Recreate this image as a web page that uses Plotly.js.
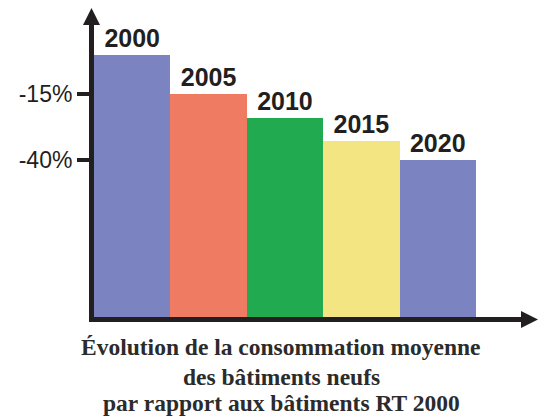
<!DOCTYPE html>
<html>
<head>
<meta charset="utf-8">
<script src="https://cdn.plot.ly/plotly-3.0.1.min.js"></script>
<style>html,body{margin:0;padding:0;background:#fff;}#chart{width:547px;height:418px;}</style>
</head>
<body>
<div id="chart"></div>
<script>
var years = ['2000', '2005', '2010', '2015', '2020'];
var values = [100, 85, 76, 67, 60];
var tickVals = [85, 60];
var tickText = ['-15%', '-40%'];
var titleLines = ['Évolution de la consommation moyenne', 'des bâtiments neufs', 'par rapport aux bâtiments RT 2000'];

var barColors = ['#7b84c1', '#f07b63', '#22aa50', '#f3e682', '#7b84c1'];
var ink = '#231f20';

var trace = {
  type: 'bar',
  x: years,
  y: values,
  text: years,
  textposition: 'outside',
  cliponaxis: false,
  textfont: {family: 'Liberation Sans, Arial, sans-serif', size: 25, color: ink, weight: 'bold'},
  texttemplate: '<b>%{text}</b>',
  marker: {color: barColors, line: {width: 0}},
  width: 1,
  hoverinfo: 'none'
};

var titleY = [-0.1027, -0.2055, -0.2945];
var annotations = titleLines.map(function (t, i) {
  return {
    xref: 'paper', yref: 'paper', x: 0.438, y: titleY[i],
    xanchor: 'center', yanchor: 'middle', showarrow: false,
    text: '<b>' + t + '</b>',
    font: {family: 'Liberation Serif, Times New Roman, serif', size: 23.5, color: '#2b2b2b'}
  };
});

var layout = {
  width: 547,
  height: 418,
  margin: {l: 94, r: 26, t: 25, b: 101, pad: 0},
  paper_bgcolor: '#ffffff',
  plot_bgcolor: '#ffffff',
  showlegend: false,
  bargap: 0,
  xaxis: {
    type: 'category',
    range: [-0.5, 5.09],
    showticklabels: false,
    ticks: '',
    showgrid: false,
    zeroline: false,
    showline: true,
    linewidth: 5,
    linecolor: ink,
    fixedrange: true
  },
  yaxis: {
    range: [0, 111.45],
    tickvals: tickVals,
    ticktext: tickText,
    ticks: 'outside',
    ticklen: 12,
    tickwidth: 4,
    tickcolor: ink,
    tickfont: {family: 'Liberation Sans, Arial, sans-serif', size: 23, color: ink},
    showgrid: false,
    zeroline: false,
    showline: true,
    linewidth: 5,
    linecolor: ink,
    fixedrange: true
  },
  shapes: [
    {type: 'path', xref: 'paper', yref: 'paper',
     path: 'M -0.02576 1 L -0.00585 1.0582 L 0.01405 1 Z',
     fillcolor: ink, line: {width: 0}},
    {type: 'path', xref: 'paper', yref: 'paper',
     path: 'M 1 0.0205 L 1.0398 -0.0086 L 1 -0.0377 Z',
     fillcolor: ink, line: {width: 0}}
  ],
  annotations: annotations
};

Plotly.newPlot('chart', [trace], layout, {displayModeBar: false, staticPlot: true});
</script>
</body>
</html>
